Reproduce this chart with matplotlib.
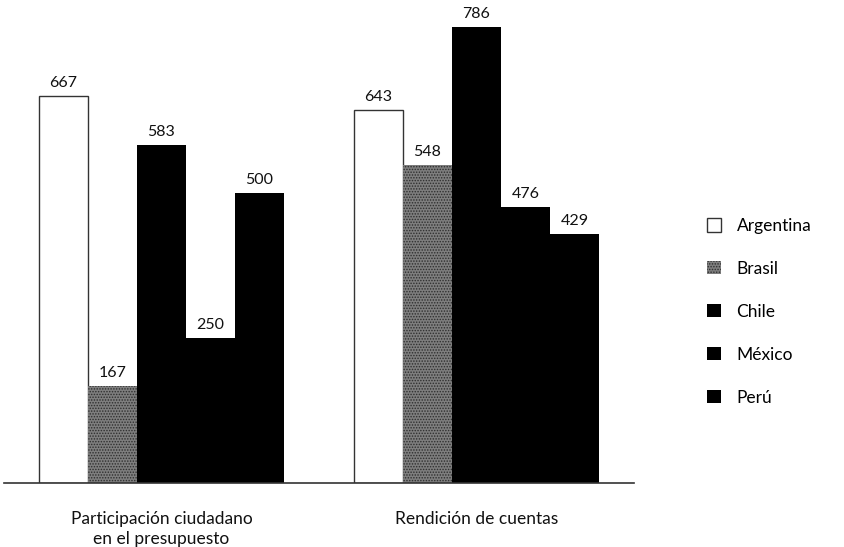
import matplotlib.pyplot as plt
import numpy as np

plt.rcParams["font.family"] = ["Lato", "DejaVu Sans"]
plt.rcParams["hatch.linewidth"] = 0.7

categorias = ["Participación ciudadano\nen el presupuesto", "Rendición de cuentas"]
paises = ["Argentina", "Brasil", "Chile", "México", "Perú"]
valores = {
    "Argentina": [667, 643],
    "Brasil": [167, 548],
    "Chile": [583, 786],
    "México": [250, 476],
    "Perú": [500, 429],
}

estilos = {
    "Argentina": dict(facecolor="white", edgecolor="#333333", linewidth=1.0),
    "Brasil": dict(facecolor="#7e7e7e", edgecolor="#2e2e2e", linewidth=0, hatch="......"),
    "Chile": dict(facecolor="black", edgecolor="black", linewidth=0),
    "México": dict(facecolor="black", edgecolor="black", linewidth=0),
    "Perú": dict(facecolor="black", edgecolor="black", linewidth=0),
}

fig = plt.figure(figsize=(8.44, 5.47), dpi=100)
ax = fig.add_axes([4 / 844, 64 / 547, 630 / 844, 464 / 547])

x = np.arange(len(categorias))
ancho = 0.1556
for i, p in enumerate(paises):
    pos = x + (i - 2) * ancho
    barras = ax.bar(pos, valores[p], ancho, label=p, **estilos[p])
    for b, v in zip(barras, valores[p]):
        ax.text(b.get_x() + b.get_width() / 2, v + 10, str(v),
                ha="center", va="bottom", fontsize=11.5, color="#111111")

ax.set_xlim(-0.5, 1.5)
ax.set_ylim(0, 800)
for s in ["top", "right", "left"]:
    ax.spines[s].set_visible(False)
ax.spines["bottom"].set_color("#333333")
ax.spines["bottom"].set_linewidth(1.2)
ax.set_yticks([])
ax.set_xticks(x)
ax.set_xticklabels(categorias, fontsize=12.5, color="#111111", linespacing=1.3)
ax.tick_params(axis="x", length=0, pad=20)

fig.legend(loc="upper left", bbox_to_anchor=(700 / 844, 1 - 211 / 547),
           frameon=False, fontsize=12.5, handlelength=0.8, handleheight=0.8,
           labelspacing=1.55, handletextpad=0.9, borderaxespad=0)

fig.savefig("out.png", dpi=100)
